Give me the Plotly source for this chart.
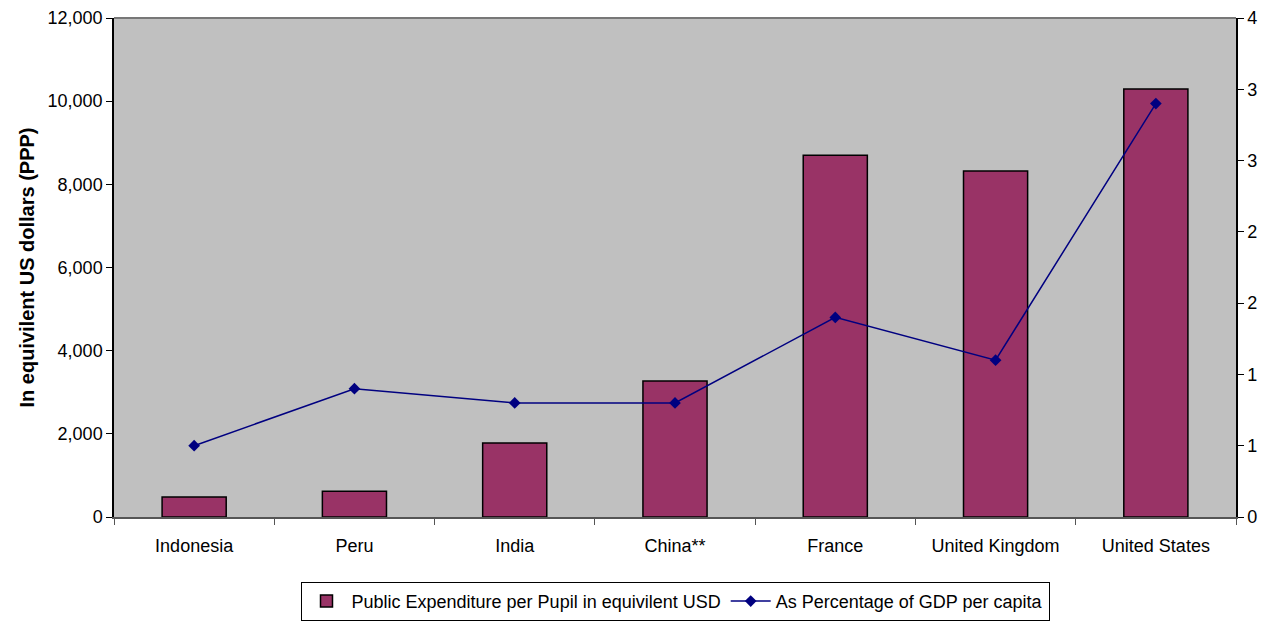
import plotly.graph_objects as go

countries = ["Indonesia", "Peru", "India", "China**", "France", "United Kingdom", "United States"]
expenditure = [480, 620, 1780, 3270, 8700, 8320, 10290]
pct_gdp = [0.5, 0.9, 0.8, 0.8, 1.4, 1.1, 2.9]

left_ticks = [0, 2000, 4000, 6000, 8000, 10000, 12000]
right_tickvals = [0, 0.5, 1, 1.5, 2, 2.5, 3, 3.5]
right_ticktext = ["0", "1", "1", "2", "2", "3", "3", "4"]

font = "Liberation Sans, Arial, sans-serif"

fig = go.Figure()
fig.add_trace(go.Bar(
    x=countries, y=expenditure,
    name="Public Expenditure per Pupil in equivilent USD",
    marker=dict(color="#993366", line=dict(color="black", width=1.5)),
    yaxis="y",
))
fig.add_trace(go.Scatter(
    x=countries, y=pct_gdp,
    name="As Percentage of GDP per capita",
    mode="lines+markers",
    line=dict(color="#000080", width=1.5),
    marker=dict(symbol="diamond", size=9, color="#000080"),
    yaxis="y2",
))

fig.update_layout(
    width=1273, height=625,
    margin=dict(l=114, r=37, t=18, b=108, autoexpand=False),
    paper_bgcolor="white",
    plot_bgcolor="#C0C0C0",
    bargap=0.6,
    font=dict(family=font, size=18, color="black"),
    showlegend=True,
    legend=dict(
        orientation="h", x=0.5, xanchor="center", y=-0.13, yanchor="top",
        bordercolor="black", borderwidth=1, bgcolor="white",
        font=dict(size=18), traceorder="normal", itemwidth=40,
    ),
    xaxis=dict(
        type="category", showgrid=False, showline=True, linecolor="#555555", linewidth=1.5,
        ticks="outside", tickson="boundaries", ticklen=6, tickcolor="#555555",
        tickfont=dict(size=18), range=[-0.5, 6.5], automargin=False,
        ticklabelstandoff=12,
    ),
    yaxis=dict(
        range=[0, 12000], tickvals=left_ticks, tickformat=",d", showgrid=False,
        showline=True, linecolor="black", linewidth=1.5, ticks="outside", ticklen=6,
        tickcolor="black", zeroline=False, tickfont=dict(size=18), automargin=False,
        title=dict(text="<b>In equivilent US dollars (PPP)</b>", font=dict(size=20), standoff=8),
    ),
    yaxis2=dict(
        range=[0, 3.5], overlaying="y", side="right", tickvals=right_tickvals,
        ticktext=right_ticktext, showgrid=False, showline=True, linecolor="black",
        linewidth=1.5, ticks="outside", ticklen=6, tickcolor="black", zeroline=False,
        tickfont=dict(size=18), automargin=False,
    ),
    shapes=[dict(type="line", xref="paper", yref="paper", x0=0, x1=1, y0=1, y1=1,
                 line=dict(color="#777777", width=2))],
)

fig.write_html("out.html", config={"displayModeBar": False},
               post_script="document.body.style.margin='0';document.body.style.overflow='hidden';")
